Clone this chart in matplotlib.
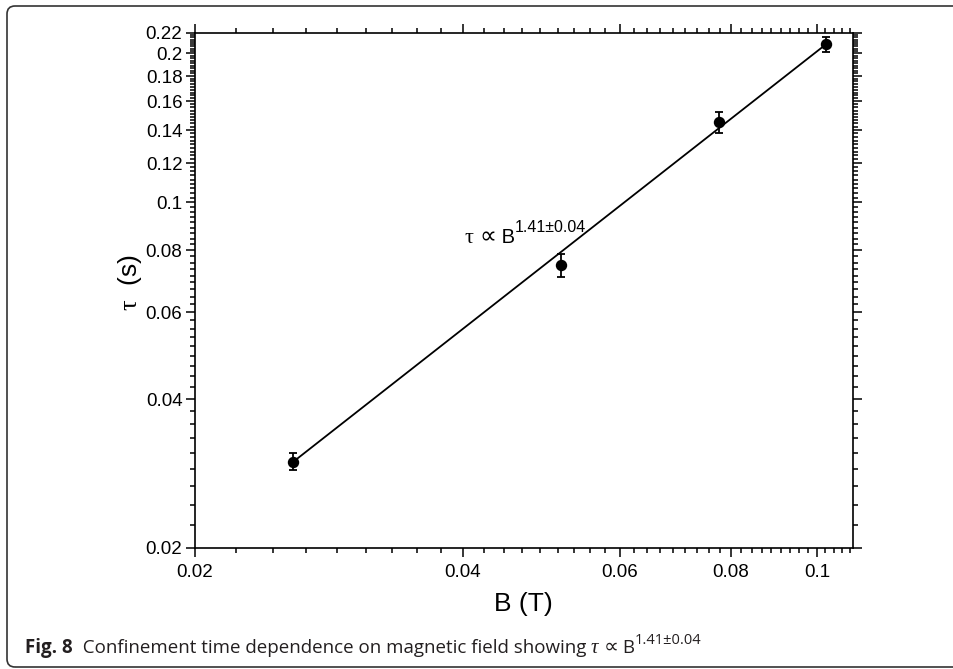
import numpy as np
import matplotlib
matplotlib.use("Agg")
import matplotlib.pyplot as plt
from matplotlib.patches import FancyBboxPatch
from matplotlib.ticker import FixedLocator, FuncFormatter, NullFormatter
from matplotlib.transforms import IdentityTransform


# measured confinement time against magnetic field
field_T = [0.02579, 0.05163, 0.07754, 0.1024]
tau_s = [0.0299, 0.0747, 0.1451, 0.2087]
tau_err = [0.0012, 0.0040, 0.0069, 0.0075]

# power law fit  tau = A * B^n
fit_prefactor = 5.19
fit_exponent = 1.41
fit_exponent_err = 0.04

x_major = [0.02, 0.04, 0.06, 0.08, 0.1]
y_major = [0.02, 0.04, 0.06, 0.08, 0.1, 0.12, 0.14, 0.16, 0.18, 0.2, 0.22]

AXIS_FONT = "Liberation Sans"
CAPTION_FONT = "Open Sans"
SYMBOL_FONT = "Liberation Serif"


def minor_ticks(start, stop, step):
    ticks = np.arange(start, stop + step / 2, step)
    return [t for t in ticks if abs(t / 0.02 - round(t / 0.02)) > 1e-6]


def draw_run(fig, x, y, pieces):
    """Write text pieces one after another on a common baseline (pixels)."""
    renderer = fig.canvas.get_renderer()
    for text, props, rise in pieces:
        t = fig.text(x, y + rise, text, transform=IdentityTransform(),
                     ha="left", va="baseline", **props)
        x = t.get_window_extent(renderer).x1
    return x


def main():
    plt.rcParams["mathtext.fontset"] = "custom"
    plt.rcParams["mathtext.rm"] = SYMBOL_FONT

    fig = plt.figure(figsize=(9.54, 6.69), dpi=100)
    ax = fig.add_axes([0.2044, 0.1809, 0.6894, 0.7698])

    ax.set_xscale("log")
    ax.set_yscale("log")
    ax.set_xlim(0.02, 0.1097)
    ax.set_ylim(0.02, 0.22)

    # fitted line over the measured range
    b = np.linspace(min(field_T), max(field_T), 50)
    ax.plot(b, fit_prefactor * b ** fit_exponent, color="black", lw=1.3)

    ax.errorbar(field_T, tau_s, yerr=tau_err, fmt="o", color="black",
                markersize=7.2, elinewidth=1.3, capsize=3, capthick=1.3)

    # ticks on all four sides, pointing out
    step = 0.02 / 9
    ax.xaxis.set_major_locator(FixedLocator(x_major))
    ax.xaxis.set_minor_locator(FixedLocator(minor_ticks(0.02, 0.11, step)))
    ax.yaxis.set_major_locator(FixedLocator(y_major))
    ax.yaxis.set_minor_locator(FixedLocator(minor_ticks(0.02, 0.22, step)))
    fmt = FuncFormatter(lambda v, pos: "%g" % v)
    ax.xaxis.set_major_formatter(fmt)
    ax.yaxis.set_major_formatter(fmt)
    ax.xaxis.set_minor_formatter(NullFormatter())
    ax.yaxis.set_minor_formatter(NullFormatter())

    ax.tick_params(which="both", direction="out", top=True, right=True,
                   width=1.1, colors="black")
    ax.tick_params(which="major", length=6.5, pad=5, labelsize=13.5)
    ax.tick_params(axis="y", which="major", pad=2.5)
    ax.tick_params(which="minor", length=3.5)
    for label in ax.get_xticklabels() + ax.get_yticklabels():
        label.set_fontfamily(AXIS_FONT)
    for spine in ax.spines.values():
        spine.set_linewidth(1.2)

    ax.set_xlabel("B (T)", fontsize=19, family=AXIS_FONT, labelpad=8)
    ax.set_ylabel(r"$\mathrm{\tau}$  (s)", fontsize=19, family=AXIS_FONT)
    ax.yaxis.set_label_coords(-0.078, 0.515)

    # power law label next to the line
    x0, y0 = ax.transData.transform((0.0402, 0.0827))
    sans = {"family": [AXIS_FONT, "DejaVu Sans"], "fontsize": 14.5}
    draw_run(fig, x0, y0, [
        ("τ", {"family": SYMBOL_FONT, "fontsize": 16}, 0),
        (" ", sans, 0),
        ("∝", {"family": "DejaVu Sans", "fontsize": 17}, 0),
        (" B", sans, 0),
        ("%.2f±%.2f" % (fit_exponent, fit_exponent_err),
         {"family": [AXIS_FONT, "DejaVu Sans"], "fontsize": 11.5}, 11),
    ])

    # caption under the plot
    cap = {"family": [CAPTION_FONT, "DejaVu Sans"], "fontsize": 13.5,
           "color": "#231f20"}
    draw_run(fig, 25, 669 - 653, [
        ("Fig. 8", dict(cap, weight="bold"), 0),
        ("  Confinement time dependence on magnetic field showing ", cap, 0),
        ("τ", dict(cap, family=SYMBOL_FONT, style="italic", fontsize=15), 0),
        (" ", cap, 0),
        ("∝", dict(cap, family="DejaVu Sans", fontsize=15), 0),
        (" B", cap, 0),
        ("%.2f±%.2f" % (fit_exponent, fit_exponent_err),
         dict(cap, fontsize=10.5), 9),
    ])

    # rounded frame around the figure
    frame = FancyBboxPatch((7, 2), 980, 661, boxstyle="round,pad=0,rounding_size=8",
                           transform=IdentityTransform(), fill=False,
                           edgecolor="#333333", lw=1.2)
    fig.patches.append(frame)

    fig.savefig("out.png", dpi=100)


if __name__ == "__main__":
    main()
